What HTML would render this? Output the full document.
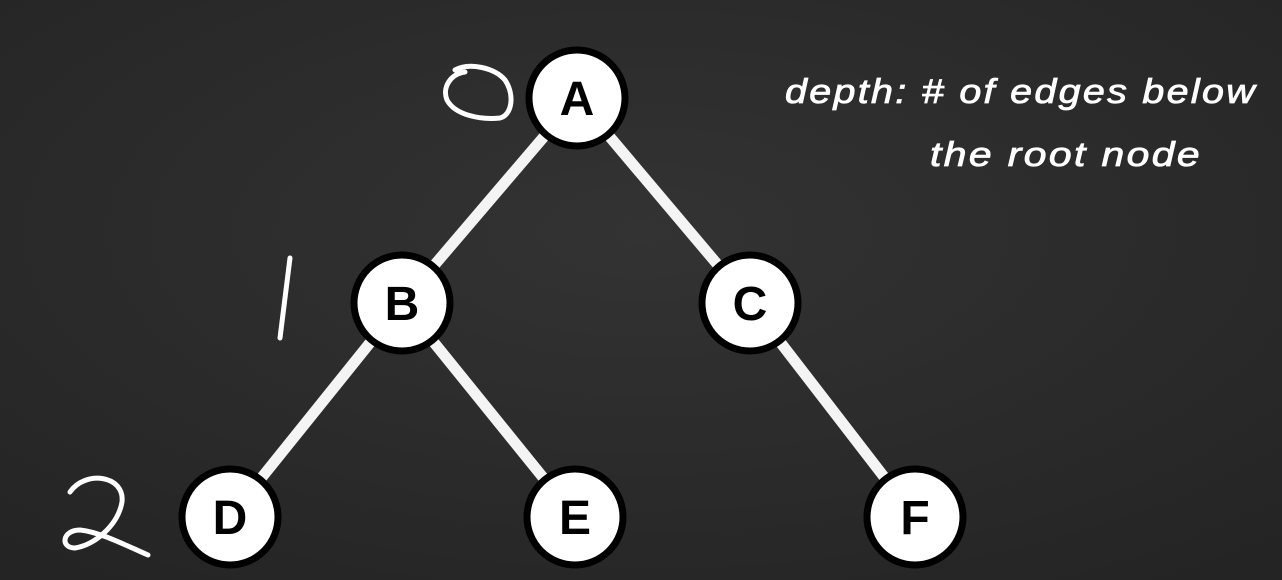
<!DOCTYPE html>
<html><head><style>
html,body{margin:0;padding:0;background:#2b2b2b;}
svg{display:block}
</style></head><body>
<svg width="1282" height="580" viewBox="0 0 1282 580" xmlns="http://www.w3.org/2000/svg">
<defs>
<radialGradient id="bg" cx="50%" cy="40%" r="75%">
<stop offset="0" stop-color="#333"/><stop offset="1" stop-color="#242424"/>
</radialGradient>
</defs>
<rect width="1282" height="580" fill="url(#bg)"/>
<g stroke="#f4f4f4" stroke-width="11" stroke-linecap="butt">
<line x1="577" y1="98" x2="402" y2="303"/>
<line x1="577" y1="98" x2="750" y2="303"/>
<line x1="402" y1="303" x2="230" y2="517"/>
<line x1="402" y1="303" x2="575" y2="517"/>
<line x1="750" y1="303" x2="915" y2="517"/>
</g>
<g fill="#fff" stroke="#000" stroke-width="7">
<circle cx="577" cy="98" r="48"/>
<circle cx="402" cy="303" r="48"/>
<circle cx="750" cy="303" r="48"/>
<circle cx="230" cy="517" r="48"/>
<circle cx="575" cy="517" r="48"/>
<circle cx="915" cy="517" r="48"/>
</g>
<g font-family="Liberation Sans, sans-serif" font-weight="bold" font-size="48" text-anchor="middle" fill="#000">
<text x="577" y="115">A</text>
<text x="402" y="320">B</text>
<text x="750" y="320">C</text>
<text x="230" y="534">D</text>
<text x="575" y="534">E</text>
<text x="915" y="534">F</text>
</g>
<g fill="none" stroke="#fff" stroke-width="5" stroke-linecap="round">
<path d="M455 70 C470 62,495 68,505 80 C515 95,512 115,500 118 C480 120,455 115,447 100 C442 88,450 74,465 72"/>
<path d="M290 258 L280 338"/>
<path d="M70 492 C85 470,125 475,122 502 C118 525,95 545,75 548 C60 548,62 530,80 530 C100 532,125 545,148 555"/>
</g>
<g font-family="Liberation Sans, sans-serif" font-style="italic" font-size="34" fill="#fff" stroke="#fff" stroke-width="0.8" letter-spacing="2">
<text x="785" y="103" textLength="472" lengthAdjust="spacingAndGlyphs">depth: # of edges below</text>
<text x="930" y="166" textLength="272" lengthAdjust="spacingAndGlyphs">the root node</text>
</g>
</svg>
</body></html>
